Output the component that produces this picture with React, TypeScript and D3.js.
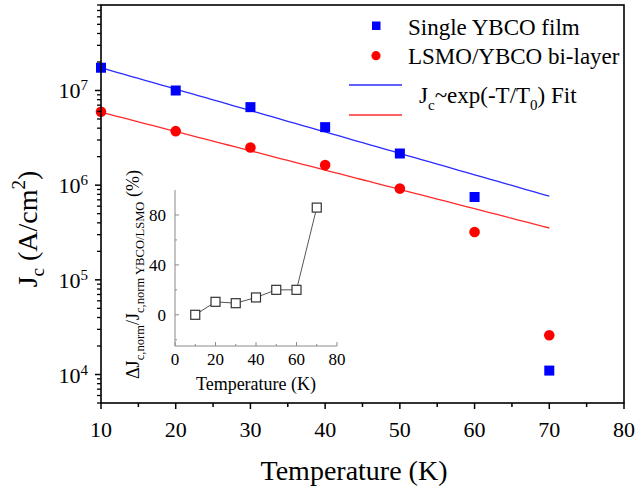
import React from "react";
import * as d3 from "d3";

const W = 636;
const H = 489;
const FONT = "'Liberation Serif', 'Times New Roman', serif";

// Main panel: critical current density vs temperature
const temps = [10, 20, 30, 40, 50, 60, 70];
const jcSingle = [1.74e7, 1.0e7, 6.67e6, 4.1e6, 2.16e6, 7.5e5, 1.1e4];
const jcBilayer = [5.96e6, 3.72e6, 2.5e6, 1.63e6, 9.2e5, 3.2e5, 2.6e4];

// Exponential fits Jc = A * exp(-(T - 10)/T0), drawn from 10 K to 70 K
const fitA = [1.74e7, 5.9e6];
const fitT0 = [19.2, 21.3];
const fitRange = [10, 70];
const fitColors = ["#2b2bff", "#ff2b2b"];

const xTicks = [10, 20, 30, 40, 50, 60, 70, 80];
const xMinor = [15, 25, 35, 45, 55, 65, 75];
const yDecades = [4, 5, 6, 7];

// Inset: relative suppression of normalized Jc
const insetT = [10, 20, 30, 40, 50, 60, 70];
const insetVal = [0, 10.4, 9.3, 13.9, 20, 20, 85.9];
const insetXTicks = [0, 20, 40, 60, 80];
const insetXMinor = [10, 30, 50, 70];
const insetYTicks = [0, 40, 80];
const insetYMinor = [-20, 20, 60];

const x = d3.scaleLinear().domain([10, 80]).range([101, 624]);
const y = d3.scaleLog().domain([5e3, 8e7]).range([403, 5]);

const ix = d3.scaleLinear().domain([0, 80]).range([175, 337]);
const iy = d3.scaleLinear().domain([-25, 100]).range([346, 190]);

function yMinorTicks(): number[] {
  const out: number[] = [];
  for (let e = 3; e <= 7; e++) {
    for (let m = 2; m <= 9; m++) {
      const v = m * Math.pow(10, e);
      if (v >= 5e3 && v <= 8e7) out.push(v);
    }
  }
  return out;
}

export default function App() {
  const fitLine = (k: number) => {
    const pts = d3.range(fitRange[0], fitRange[1] + 0.01, 1).map((t) => [
      t,
      fitA[k] * Math.exp(-(t - 10) / fitT0[k]),
    ]);
    return d3
      .line<number[]>()
      .x((d) => x(d[0]))
      .y((d) => y(d[1]))(pts) as string;
  };

  const insetPath = d3
    .line<number>()
    .x((_, i) => ix(insetT[i]))
    .y((d) => iy(d))(insetVal) as string;

  const gray = "#8a8a8a";

  return (
    <svg
      width={W}
      height={H}
      style={{ position: "absolute", left: 0, top: 0, background: "#fff" }}
      fontFamily={FONT}
    >
      <rect x={0} y={0} width={W} height={H} fill="#fff" />

      {/* fit lines */}
      {[0, 1].map((k) => (
        <path key={k} d={fitLine(k)} fill="none" stroke={fitColors[k]} strokeWidth={1.3} />
      ))}

      {/* data points */}
      {temps.map((t, i) => (
        <rect
          key={"s" + i}
          x={x(t) - 5}
          y={y(jcSingle[i]) - 5}
          width={10}
          height={10}
          fill="#0000ff"
        />
      ))}
      {temps.map((t, i) => (
        <circle key={"c" + i} cx={x(t)} cy={y(jcBilayer[i])} r={5.3} fill="#ff0000" />
      ))}

      {/* frame */}
      <rect
        x={x(10)}
        y={y(8e7)}
        width={x(80) - x(10)}
        height={y(5e3) - y(8e7)}
        fill="none"
        stroke="#000"
        strokeWidth={1.6}
      />

      {/* x axis ticks */}
      {xTicks.map((t) => (
        <g key={"xt" + t}>
          <line x1={x(t)} x2={x(t)} y1={403} y2={409} stroke="#000" strokeWidth={1.5} />
          <text x={x(t)} y={437} fontSize={22} textAnchor="middle">
            {t}
          </text>
        </g>
      ))}
      {xMinor.map((t) => (
        <line key={"xm" + t} x1={x(t)} x2={x(t)} y1={403} y2={407} stroke="#000" strokeWidth={1.5} />
      ))}

      {/* y axis ticks */}
      {yDecades.map((e) => {
        const yy = y(Math.pow(10, e));
        return (
          <g key={"yt" + e}>
            <line x1={95} x2={101} y1={yy} y2={yy} stroke="#000" strokeWidth={1.5} />
            <text x={88} y={yy + 8} fontSize={22} textAnchor="end">
              10
              <tspan fontSize={15} dy={-8}>
                {e}
              </tspan>
            </text>
          </g>
        );
      })}
      {yMinorTicks().map((v) => (
        <line key={"ym" + v} x1={97} x2={101} y1={y(v)} y2={y(v)} stroke="#000" strokeWidth={1.3} />
      ))}

      {/* axis titles */}
      <text x={354} y={480} fontSize={28} textAnchor="middle">
        Temperature (K)
      </text>
      <text transform="translate(37,229) rotate(-90)" fontSize={28} textAnchor="middle">
        J
        <tspan fontSize={19} dy={7}>c</tspan>
        <tspan dy={-7}> (A/cm</tspan>
        <tspan fontSize={19} dy={-12}>2</tspan>
        <tspan dy={12}>)</tspan>
      </text>

      {/* legend */}
      <rect x={372} y={21.5} width={8.5} height={8.5} fill="#0000ff" />
      <text x={408} y={35} fontSize={23}>Single YBCO film</text>
      <circle cx={376} cy={55.7} r={4.6} fill="#ff0000" />
      <text x={408} y={63.5} fontSize={23}>LSMO/YBCO bi-layer</text>
      <line x1={349} x2={402} y1={85} y2={85} stroke={fitColors[0]} strokeWidth={1.3} />
      <line x1={349} x2={402} y1={115} y2={115} stroke={fitColors[1]} strokeWidth={1.3} />
      <text x={419} y={103} fontSize={23}>
        J
        <tspan fontSize={15} dy={7}>c</tspan>
        <tspan dy={-7}>~exp(-T/T</tspan>
        <tspan fontSize={15} dy={7}>0</tspan>
        <tspan dy={-7}>) Fit</tspan>
      </text>

      {/* inset */}
      <g>
        <line x1={ix(0)} x2={ix(80)} y1={iy(-25)} y2={iy(-25)} stroke={gray} strokeWidth={1} />
        <line x1={ix(0)} x2={ix(0)} y1={iy(-25)} y2={iy(100)} stroke={gray} strokeWidth={1} />
        {insetXTicks.map((t) => (
          <g key={"ixt" + t}>
            <line x1={ix(t)} x2={ix(t)} y1={iy(-25)} y2={iy(-25) - 4} stroke={gray} />
            <text x={ix(t)} y={365} fontSize={17} textAnchor="middle">
              {t}
            </text>
          </g>
        ))}
        {insetXMinor.map((t) => (
          <line key={"ixm" + t} x1={ix(t)} x2={ix(t)} y1={iy(-25)} y2={iy(-25) - 2} stroke={gray} />
        ))}
        {insetYTicks.map((v) => (
          <g key={"iyt" + v}>
            <line x1={ix(0)} x2={ix(0) + 4} y1={iy(v)} y2={iy(v)} stroke={gray} />
            <text x={166} y={iy(v) + 6} fontSize={17} textAnchor="end">
              {v}
            </text>
          </g>
        ))}
        {insetYMinor.map((v) => (
          <line key={"iym" + v} x1={ix(0)} x2={ix(0) + 2} y1={iy(v)} y2={iy(v)} stroke={gray} />
        ))}
        <path d={insetPath} fill="none" stroke="#555" strokeWidth={1} />
        {insetVal.map((v, i) => (
          <rect
            key={"ip" + i}
            x={ix(insetT[i]) - 4.5}
            y={iy(v) - 4.5}
            width={9}
            height={9}
            fill="#fff"
            stroke="#333"
            strokeWidth={1.2}
          />
        ))}
        <text x={256} y={390} fontSize={18} textAnchor="middle">
          Temperature (K)
        </text>
        <text transform="translate(139,274.5) rotate(-90)" fontSize={18} textAnchor="middle">
          ΔJ
          <tspan fontSize={12.6} dy={5}>c,norm</tspan>
          <tspan dy={-5}>/J</tspan>
          <tspan fontSize={12.6} dy={5}>c,norm YBCO/LSMO</tspan>
          <tspan dy={-5}> (%)</tspan>
        </text>
      </g>
    </svg>
  );
}
